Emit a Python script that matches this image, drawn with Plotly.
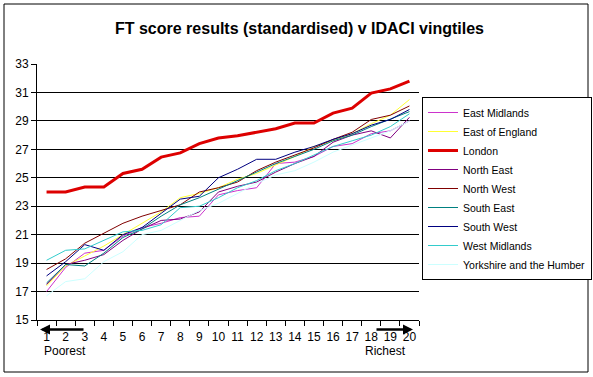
import plotly.graph_objects as go

vingtiles = list(range(1, 21))

east_midlands = [17.0, 18.7, 19.7, 19.9, 20.9, 21.5, 21.8, 22.2, 22.3, 23.8, 24.1, 24.3, 26.0, 26.1, 26.5, 27.2, 27.4, 28.1, 28.3, 29.0]
east_of_england = [17.4, 18.8, 19.5, 20.2, 21.0, 21.8, 22.6, 23.6, 23.9, 24.3, 24.9, 25.3, 25.9, 26.5, 27.2, 27.6, 28.1, 28.8, 29.4, 30.5]
london = [24.0, 24.0, 24.35, 24.35, 25.3, 25.6, 26.45, 26.75, 27.4, 27.8, 27.95, 28.2, 28.45, 28.85, 28.85, 29.55, 29.9, 30.95, 31.25, 31.8]
north_east = [17.5, 18.9, 19.2, 19.6, 20.6, 21.4, 22.0, 22.1, 22.6, 24.0, 24.4, 24.7, 25.4, 26.0, 26.5, 27.5, 28.0, 28.3, 27.8, 29.25]
north_west = [18.55, 19.3, 20.4, 21.1, 21.8, 22.3, 22.7, 23.1, 24.0, 24.3, 24.7, 25.5, 26.1, 26.6, 27.1, 27.7, 28.2, 29.1, 29.4, 30.05]
south_east = [17.6, 18.9, 18.8, 19.7, 20.8, 21.4, 22.3, 23.1, 23.6, 24.2, 24.8, 25.4, 26.0, 26.5, 27.0, 27.6, 28.0, 28.6, 29.1, 29.65]
south_west = [18.1, 19.1, 20.3, 19.9, 21.0, 21.5, 22.5, 23.5, 23.7, 25.0, 25.6, 26.3, 26.3, 26.8, 27.2, 27.7, 28.1, 28.7, 29.1, 29.8]
west_midlands = [19.2, 19.9, 20.0, 20.6, 21.2, 21.3, 21.7, 22.9, 23.0, 23.6, 24.3, 24.8, 25.5, 26.0, 26.6, 27.2, 27.6, 28.0, 28.6, 29.5]
yorkshire = [16.7, 17.7, 17.9, 19.1, 19.8, 21.0, 21.3, 22.0, 22.7, 23.2, 23.9, 24.6, 25.2, 25.5, 26.1, 26.8, 27.3, 27.8, 28.3, 29.0]

series_names = ["East Midlands", "East of England", "London", "North East", "North West",
                "South East", "South West", "West Midlands", "Yorkshire and the Humber"]
series_values = [east_midlands, east_of_england, london, north_east, north_west,
                 south_east, south_west, west_midlands, yorkshire]
series_colors = ["#CC33CC", "#FFFF33", "#DD0000", "#800080", "#800000",
                 "#008080", "#000080", "#33CCCC", "#CCFFFF"]
series_widths = [1, 1, 3, 1, 1, 1, 1, 1, 1]

title_text = "FT score results (standardised) v IDACI vingtiles"

W, H = 593, 377
L, R, T, B = 37, 174, 64, 57
PW = W - L - R
PH = H - T - B


def px_x(p):
    return (p - L) / PW


def px_y(p):
    return (H - B - p) / PH


FONT = "Liberation Sans, Arial, sans-serif"

fig = go.Figure()
for name, vals, col, wd in zip(series_names, series_values, series_colors, series_widths):
    fig.add_trace(go.Scatter(x=vingtiles, y=vals, mode="lines", name=name,
                             line=dict(color=col, width=wd)))

fig.update_layout(
    width=W, height=H, autosize=False,
    margin=dict(l=L, r=R, t=T, b=B, pad=0, autoexpand=False),
    paper_bgcolor="white", plot_bgcolor="white",
    font=dict(family=FONT, size=12, color="black"),
    title=dict(text="<b>" + title_text + "</b>", x=0.505, xanchor="center",
               y=1 - 28 / H, yanchor="middle", yref="container",
               font=dict(family=FONT, size=16, color="black")),
    showlegend=True,
    legend=dict(x=px_x(422), y=px_y(97), xanchor="left", yanchor="top",
                bgcolor="white", bordercolor="black", borderwidth=1,
                font=dict(family=FONT, size=10.5, color="black"),
                tracegroupgap=0),
)

fig.update_xaxes(range=[0.5, 20.5], tickmode="linear", tick0=1, dtick=1,
                 ticks="", showgrid=False, zeroline=False,
                 showline=True, linecolor="black", linewidth=1,
                 ticklabelstandoff=6,
                 minor=dict(ticks="outside", tick0=0.5, dtick=1, ticklen=5,
                            tickcolor="black", tickwidth=1, showgrid=False),
                 tickfont=dict(family=FONT, size=12, color="black"))
fig.update_yaxes(range=[15, 33], tickmode="linear", tick0=15, dtick=2,
                 ticks="outside", ticklen=5, tickcolor="black",
                 showgrid=True, gridcolor="black", gridwidth=1, zeroline=False,
                 showline=True, linecolor="black", linewidth=1,
                 tickfont=dict(family=FONT, size=12, color="black"))

# outer chart border
fig.add_shape(type="rect", xref="paper", yref="paper",
              x0=px_x(4), x1=px_x(588), y0=px_y(372), y1=px_y(4),
              line=dict(color="black", width=1), fillcolor="rgba(0,0,0,0)", layer="below")

# arrows
fig.add_annotation(xref="paper", yref="paper", x=px_x(40), y=px_y(329.5),
                   ax=45, ay=0, text="", showarrow=True, arrowhead=2,
                   arrowsize=0.8, arrowwidth=2.5, arrowcolor="black")
fig.add_annotation(xref="paper", yref="paper", x=px_x(413), y=px_y(329.5),
                   ax=-38, ay=0, text="", showarrow=True, arrowhead=2,
                   arrowsize=0.8, arrowwidth=2.5, arrowcolor="black")
fig.add_annotation(xref="paper", yref="paper", x=px_x(42), y=px_y(351),
                   text="Poorest", showarrow=False, xanchor="left", yanchor="middle",
                   font=dict(family=FONT, size=12, color="black"))
fig.add_annotation(xref="paper", yref="paper", x=px_x(408), y=px_y(351),
                   text="Richest", showarrow=False, xanchor="right", yanchor="middle",
                   font=dict(family=FONT, size=12, color="black"))

fig.write_html("out.html", config={"displayModeBar": False},
               post_script="document.body.style.margin='0';")
